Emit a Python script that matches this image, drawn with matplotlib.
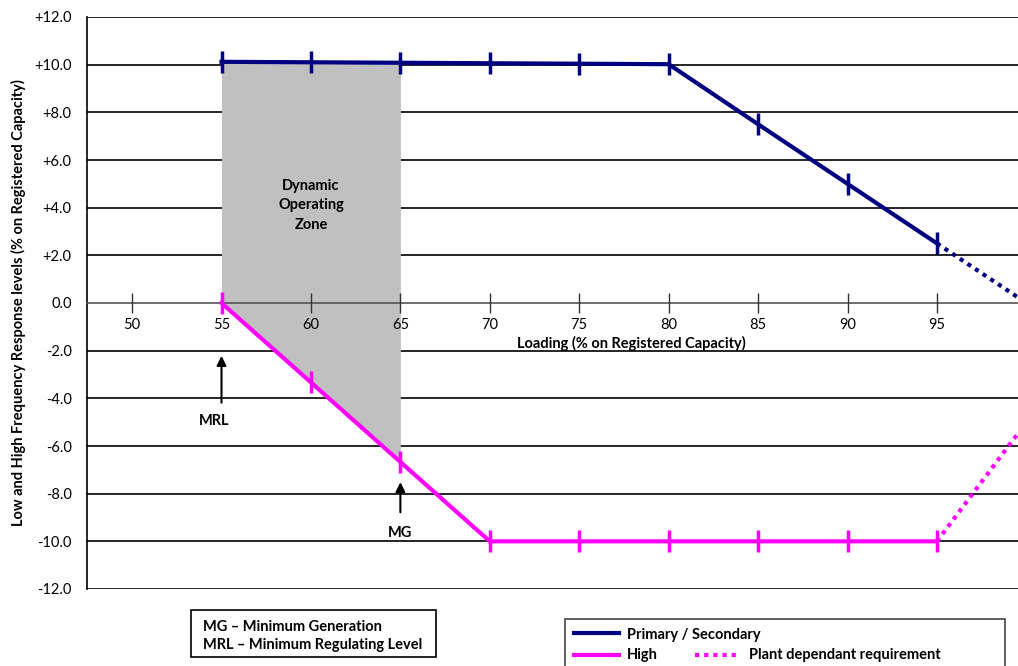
import matplotlib.pyplot as plt
from matplotlib.lines import Line2D
from matplotlib.patches import Rectangle

plt.rcParams['font.family'] = ['Lato', 'DejaVu Sans']

# dados
carga = [55, 60, 65, 70, 75, 80, 85, 90, 95]
primaria = [10.12, 10.1, 10.08, 10.06, 10.04, 10.02, 7.5, 5.0, 2.5]
alta = [0.0, -3.33, -6.67, -10.0, -10.0, -10.0, -10.0, -10.0, -10.0]
carga_ext = [95, 100]
primaria_ext = [2.5, 0.0]
alta_ext = [-10.0, -5.0]
zona_x = [55, 60, 65]
zona_topo = [10.12, 10.1, 10.08]
zona_base = [0.0, -3.33, -6.67]
xticks = [50, 55, 60, 65, 70, 75, 80, 85, 90, 95]
yticks = list(range(-12, 13, 2))

AZUL = "#000080"
MAGENTA = "#FF00FF"

fig = plt.figure(figsize=(10.18, 6.66), dpi=100)
ax = fig.add_axes([87 / 1018, 1 - 589 / 666, 931 / 1018, 572 / 666])
ax.set_xlim(47.48, 99.53)
ax.set_ylim(-12, 12)
ax.set_axisbelow(False)

for s in ["top", "right"]:
    ax.spines[s].set_visible(False)
ax.spines["left"].set_linewidth(1.2)
ax.spines["bottom"].set_position(("data", 0))
ax.spines["bottom"].set_color("#555555")
ax.spines["bottom"].set_linewidth(1.2)

for y in yticks:
    if y != 0:
        ax.axhline(y, color="black", lw=1.2, zorder=1)

ax.fill_between(zona_x, zona_base, zona_topo, color="#C0C0C0", lw=0, zorder=2)

ax.plot(carga, primaria, color=AZUL, lw=3, marker="|", ms=16, mew=2.5, zorder=4)
ax.plot(carga_ext, primaria_ext, color=AZUL, lw=3, ls=(0, (1, 1.2)), zorder=4)
ax.plot(carga, alta, color=MAGENTA, lw=3, marker="|", ms=16, mew=2.5, zorder=4)
ax.plot(carga_ext, alta_ext, color=MAGENTA, lw=3, ls=(0, (1, 1.2)), zorder=4)

ax.set_xticks(xticks)
ax.set_xticklabels([str(v) for v in xticks], fontsize=10.5)
ax.tick_params(axis="x", direction="inout", length=14, width=1, color="#333333", pad=4)
ax.set_yticks(yticks)
ax.set_yticklabels([f"{v:+.1f}" if v != 0 else "0.0" for v in yticks], fontsize=10.5)
ax.tick_params(axis="y", length=0, pad=11)

ax.text(77.9, -1.7, "Loading (% on Registered Capacity)", fontsize=10.5,
        fontweight="bold", ha="center", va="center", zorder=5)
fig.text(18 / 1018, 1 - 303 / 666,
         "Low and High Frequency Response levels (% on Registered Capacity)",
         rotation=90, fontsize=10.5, fontweight="bold", ha="center", va="center")

ax.text(60, 4.1, "Dynamic\nOperating\nZone", fontsize=10.5, fontweight="bold",
        ha="center", va="center", linespacing=1.5, zorder=5)

ax.annotate("", xy=(55, -2.1), xytext=(55, -4.3),
            arrowprops=dict(arrowstyle="-|>", color="black", lw=1.5, mutation_scale=14))
ax.text(54.6, -4.95, "MRL", fontsize=10.5, fontweight="bold", ha="center", va="center")
ax.annotate("", xy=(65, -7.4), xytext=(65, -8.9),
            arrowprops=dict(arrowstyle="-|>", color="black", lw=1.5, mutation_scale=14))
ax.text(65, -9.65, "MG", fontsize=10.5, fontweight="bold", ha="center", va="center")


# caixas de legenda em coordenadas de pixel
def px(x, y):
    return x / 1018, 1 - y / 666


fig.patches.append(Rectangle(px(191, 657), 245 / 1018, 47 / 666, transform=fig.transFigure,
                             fill=False, ec="black", lw=1.2))
fig.text(*px(203, 627), "MG \u2013 Minimum Generation", fontsize=10.5, fontweight="bold", va="center")
fig.text(*px(203, 645), "MRL \u2013 Minimum Regulating Level", fontsize=10.5, fontweight="bold", va="center")

fig.patches.append(Rectangle(px(565, 680), 440 / 1018, 61 / 666, transform=fig.transFigure,
                             fill=False, ec="#444444", lw=1.2))
fig.lines.append(Line2D([574 / 1018, 619 / 1018], [1 - 633 / 666] * 2, transform=fig.transFigure,
                        color=AZUL, lw=3))
fig.lines.append(Line2D([574 / 1018, 619 / 1018], [1 - 655 / 666] * 2, transform=fig.transFigure,
                        color=MAGENTA, lw=3))
fig.lines.append(Line2D([695 / 1018, 737 / 1018], [1 - 655 / 666] * 2, transform=fig.transFigure,
                        color=MAGENTA, lw=3, ls=(0, (1, 1.2))))
fig.text(*px(627, 635), "Primary / Secondary", fontsize=10.5, fontweight="bold", va="center")
fig.text(*px(627, 655), "High", fontsize=10.5, fontweight="bold", va="center")
fig.text(*px(749, 655), "Plant dependant requirement", fontsize=10.5, fontweight="bold", va="center")

fig.savefig("out.png", dpi=100)
